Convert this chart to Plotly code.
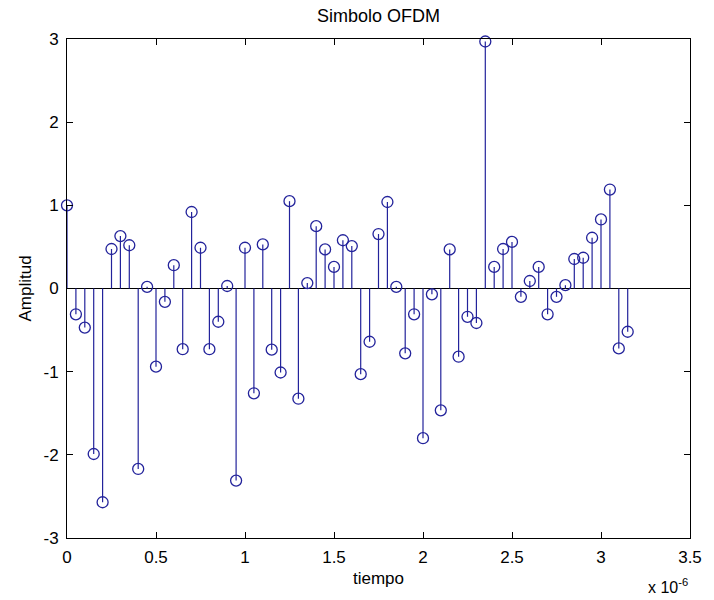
import plotly.graph_objects as go

# OFDM symbol: 64 real-valued samples, spaced 0.05 us apart
sample_step = 0.05e-6
amplitude = [
    1.00, -0.31, -0.47, -1.99, -2.57, 0.475, 0.63, 0.52,
    -2.17, 0.02, -0.94, -0.16, 0.28, -0.73, 0.92, 0.49,
    -0.73, -0.40, 0.03, -2.31, 0.49, -1.26, 0.53, -0.735,
    -1.01, 1.05, -1.325, 0.065, 0.75, 0.47, 0.26, 0.58,
    0.51, -1.03, -0.64, 0.655, 1.04, 0.02, -0.78, -0.31,
    -1.80, -0.07, -1.465, 0.47, -0.82, -0.34, -0.415, 2.97,
    0.26, 0.475, 0.56, -0.10, 0.09, 0.26, -0.31, -0.10,
    0.04, 0.355, 0.37, 0.61, 0.83, 1.19, -0.72, -0.52,
]
tiempo = [i * sample_step for i in range(len(amplitude))]

x_tick_vals = [0, 0.5e-6, 1.0e-6, 1.5e-6, 2.0e-6, 2.5e-6, 3.0e-6, 3.5e-6]
x_tick_text = ["0", "0.5", "1", "1.5", "2", "2.5", "3", "3.5"]
y_tick_vals = [-3, -2, -1, 0, 1, 2, 3]
y_tick_text = ["-3", "-2", "-1", "0", "1", "2", "3"]

stem_color = "#23239b"
font_family = "Liberation Sans, Arial, sans-serif"

# Stem lines from the baseline to each sample
stem_x, stem_y = [], []
for t, a in zip(tiempo, amplitude):
    stem_x += [t, t, None]
    stem_y += [0, a, None]

fig = go.Figure()
fig.add_trace(go.Scatter(
    x=stem_x, y=stem_y, mode="lines",
    line=dict(color=stem_color, width=1.2),
    hoverinfo="skip", showlegend=False, cliponaxis=False,
))
fig.add_trace(go.Scatter(
    x=tiempo, y=amplitude, mode="markers",
    marker=dict(symbol="circle-open", size=11, color=stem_color,
                line=dict(width=1.3, color=stem_color)),
    showlegend=False, cliponaxis=False,
))

axis_common = dict(
    showgrid=False, showline=True, linecolor="black", linewidth=1,
    mirror="ticks", ticks="inside", ticklen=6, tickcolor="black",
    tickfont=dict(family=font_family, size=17, color="black"),
)

fig.update_layout(
    width=714, height=600,
    margin=dict(l=67, r=16, t=39, b=62),
    paper_bgcolor="white", plot_bgcolor="white",
    font=dict(family=font_family, color="black"),
    title=dict(text="Simbolo OFDM", x=0.5, xref="paper", xanchor="center",
               y=1 - 16 / 600, yref="container", yanchor="middle",
               font=dict(size=18, family=font_family, color="black")),
    xaxis=dict(range=[0, 3.5e-6], tickvals=x_tick_vals, ticktext=x_tick_text,
               zeroline=False, ticklabelstandoff=4, **axis_common),
    yaxis=dict(range=[-3, 3], tickvals=y_tick_vals, ticktext=y_tick_text,
               zeroline=True, zerolinecolor="black", zerolinewidth=1,
               ticklabelstandoff=4, **axis_common),
    annotations=[
        dict(text="tiempo", xref="paper", yref="paper", x=0.5, y=0,
             xanchor="center", yanchor="middle", yshift=-40, showarrow=False,
             font=dict(size=17, family=font_family, color="black")),
        dict(text="Amplitud", xref="paper", yref="paper", x=0, y=0.5,
             xanchor="center", yanchor="middle", xshift=-42, textangle=-90,
             showarrow=False,
             font=dict(size=17, family=font_family, color="black")),
        dict(text="x 10<sup>-6</sup>", xref="paper", yref="paper", x=1, y=0,
             xanchor="right", yanchor="middle", yshift=-48, showarrow=False,
             font=dict(size=16, family=font_family, color="black")),
    ],
)

fig.write_html("out.html")
